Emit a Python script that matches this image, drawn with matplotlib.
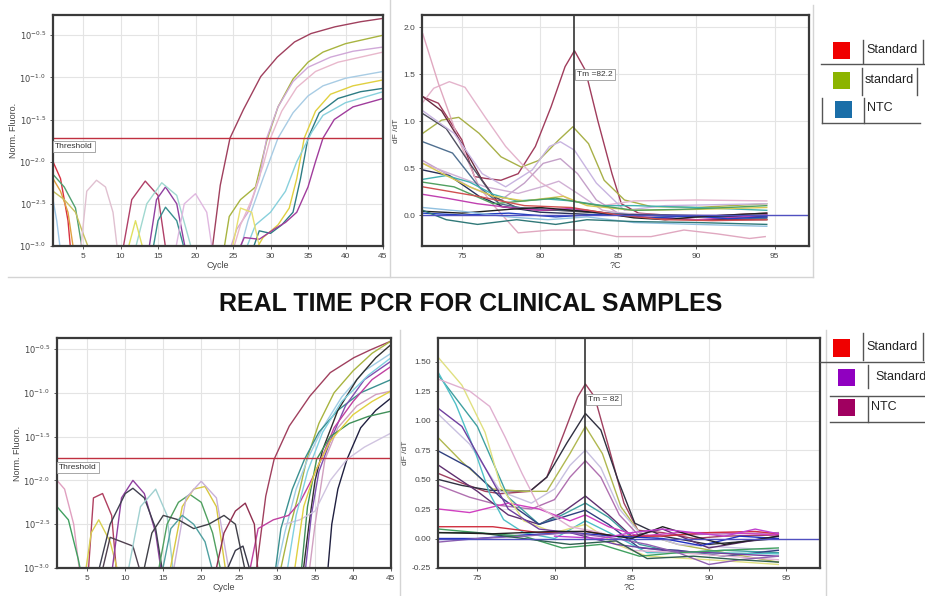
import numpy as np
import matplotlib
matplotlib.use('Agg')
import matplotlib.pyplot as plt
from matplotlib.lines import Line2D
from matplotlib.patches import Rectangle

plt.rcParams['font.family'] = ['Liberation Sans', 'DejaVu Sans']

W, H = 925, 596

# ---------- top-left: amplification (cycle, log10 norm. fluoro.) ----------
tl_x = [
    [22, 23.3, 24.6, 26.4, 28.7, 30.9, 33.2, 35.4, 38.6, 42, 45],
    [23.5, 24.5, 26, 28, 29.5, 31, 33, 35, 37, 40, 45],
    [24, 25.5, 27, 28.5, 29.5, 31, 33, 35, 38, 41, 45],
    [24.5, 26, 27.5, 29, 30, 31.5, 33.5, 36, 39, 45],
    [25.5, 27, 29, 31, 33, 35, 37, 40, 45],
    [27, 29, 31, 32.5, 33.5, 34.5, 36, 38, 41, 45],
    [27, 28.5, 30, 31.5, 33, 34, 35, 36.5, 39, 42, 45],
    [26, 28, 30, 32, 33.5, 35.5, 37, 40, 45],
    [25, 26.5, 28.5, 30.5, 32, 33.5, 35, 36, 37, 38.5, 41, 45],
    [1, 2, 3, 3.5],
    [1, 2, 3, 4],
    [1, 2.5, 4, 5.2],
    [1, 1.5, 2.2],
    [1, 2.5, 4, 5, 6.5],
    [4.5, 5.5, 6.8, 8, 9, 9.8],
    [10, 11.5, 13.3, 15, 16.3],
    [13.5, 14.8, 16, 17.5, 19],
    [11.5, 13.5, 15.5, 17.5, 20],
    [14, 15, 16, 17.5, 19],
    [10.5, 12, 13.5],
    [17, 18.5, 20, 21.5, 22.5],
    [24.5, 26, 27.5, 29],
]
tl_y = [
    [-3.2, -2.28, -1.72, -1.38, -0.99, -0.76, -0.58, -0.48, -0.40, -0.34, -0.30],
    [-3.2, -2.65, -2.45, -2.3, -1.75, -1.35, -1.02, -0.82, -0.7, -0.6, -0.5],
    [-3.2, -2.8, -2.6, -2.2, -1.72, -1.35, -1.05, -0.88, -0.76, -0.69, -0.64],
    [-3.2, -2.75, -2.45, -2.05, -1.72, -1.4, -1.12, -0.93, -0.82, -0.70],
    [-3.2, -2.7, -2.2, -1.72, -1.42, -1.22, -1.1, -1.01, -0.93],
    [-3.2, -2.9, -2.75, -2.55, -2.2, -1.72, -1.4, -1.2, -1.1, -1.03],
    [-3.2, -2.82, -2.85, -2.75, -2.6, -2.2, -1.72, -1.42, -1.25, -1.17, -1.13],
    [-3.2, -2.75, -2.6, -2.35, -2.0, -1.65, -1.45, -1.3, -1.17],
    [-3.2, -2.9, -2.92, -2.8, -2.72, -2.6, -2.3, -2.0, -1.72, -1.5, -1.35, -1.25],
    [-2.0, -2.2, -2.7, -3.2],
    [-2.2, -2.35, -2.6, -3.2],
    [-2.15, -2.3, -2.55, -3.2],
    [-2.45, -2.7, -3.2],
    [-2.35, -2.45, -2.6, -2.85, -3.2],
    [-3.2, -2.35, -2.22, -2.3, -2.6, -3.2],
    [-3.2, -2.45, -2.23, -2.4, -3.2],
    [-3.2, -2.45, -2.3, -2.5, -3.2],
    [-3.2, -2.5, -2.25, -2.4, -3.2],
    [-3.2, -2.7, -2.54, -2.7, -3.2],
    [-3.2, -2.7, -3.2],
    [-3.2, -2.5, -2.38, -2.6, -3.2],
    [-3.2, -2.55, -2.6, -3.2],
]
tl_colors = ['#a0405e', '#a8b440', '#d0a8d8', '#e8b8cc', '#a8cce4', '#e0d040',
             '#2e7c84', '#88d0dc', '#a03c9c', '#d83040', '#e0a040', '#50a070',
             '#a0c8e8', '#c8c060', '#e0c0d0', '#b04068', '#9040a0', '#a0d8d0',
             '#3a9090', '#e0e060', '#e0b8e0', '#e8e070']
tl_threshold = -1.72

# ---------- top-right: melt curves (temperature, dF/dT) ----------
tr_x = [
    [72.5, 73.5, 75, 75.8, 76.5, 77.5, 78.6, 79.7, 80.7, 81.6, 82.2, 82.9, 83.7, 84.6, 85.2, 86.3, 88, 90, 92, 94.5],
    [72.5, 73.7, 74.8, 76.1, 77.5, 78.8, 79.9, 81.2, 82.1, 83.1, 84.1, 85.4, 87.1, 90, 94.5],
    [72.5, 73.2, 74.2, 75.2, 76.5, 77.8, 78.8, 80, 82, 84, 86, 90, 94.5],
    [72.5, 73.5, 74.8, 76.1, 77.1, 78.6, 80.7, 82.8, 84.9, 87.1, 89.2, 91.3, 93.4, 94.4],
    [72.5, 75.5, 77.5, 79.0, 80.2, 81.3, 82.4, 83.6, 85, 88, 94.5],
    [72.5, 76.5, 78.6, 80.1, 81.2, 82.4, 84, 86, 94.5],
    [72.5, 73.7, 75, 76.3, 77.5, 80, 83, 86, 90, 94.5],
    [72.5, 74, 75.5, 77, 78.5, 82, 86, 90, 94.5],
    [72.5, 74.4, 76.1, 77.4, 79, 82, 86, 94.5],
    [72.5, 74.2, 76.1, 77.6, 80, 84, 88, 94.5],
    [72.5, 74.5, 76.3, 77.8, 79.5, 80.6, 81.3, 82.2, 83.6, 85.4, 88, 94.5],
    [72.5, 74, 75.5, 77, 78.5, 80.5, 82, 84, 86, 90, 94.5],
    [72.5, 74, 75.5, 77, 79, 81.5, 83, 86, 90, 94.5],
    [72.5, 74, 76, 78, 80, 82, 84, 86, 88, 90, 92, 94.5],
    [72.5, 74.5, 77, 79, 81, 83, 86, 89, 92, 94.5],
    [72.5, 75, 78, 81, 84, 87, 90, 92, 94.5],
    [72.5, 75, 78, 80, 82, 84, 86, 88, 90, 92, 94.5],
    [72.5, 75, 78, 80.5, 83, 86, 90, 94.5],
    [72.5, 74, 76, 78.5, 81, 83, 86, 90, 94.5],
    [72.5, 76, 79, 82, 85, 88, 91, 94.5],
]
tr_y = [
    [1.26, 1.19, 0.80, 0.41, 0.39, 0.37, 0.44, 0.73, 1.15, 1.58, 1.75, 1.54, 1.0, 0.44, 0.12, 0.02, 0.0, -0.02, 0.0, 0.02],
    [0.87, 1.01, 1.04, 0.87, 0.62, 0.51, 0.58, 0.80, 0.94, 0.76, 0.37, 0.16, 0.09, 0.08, 0.12],
    [1.2, 1.35, 1.42, 1.36, 1.04, 0.73, 0.55, 0.35, 0.15, 0.1, 0.15, 0.16, 0.15],
    [1.93, 1.40, 0.80, 0.30, 0.09, -0.19, -0.16, -0.16, -0.23, -0.23, -0.16, -0.2, -0.25, -0.23],
    [0.58, 0.30, 0.16, 0.34, 0.55, 0.60, 0.44, 0.16, 0.02, 0.0, -0.03],
    [0.55, 0.30, 0.23, 0.30, 0.36, 0.23, 0.05, 0.0, 0.0],
    [1.26, 1.11, 0.76, 0.37, 0.09, 0.05, 0.05, -0.02, -0.05, -0.05],
    [1.08, 0.92, 0.55, 0.2, 0.08, 0.04, 0.0, -0.02, 0.0],
    [0.78, 0.66, 0.30, 0.12, 0.07, 0.05, 0.0, -0.04],
    [0.48, 0.42, 0.20, 0.09, 0.03, 0.0, 0.0, -0.02],
    [1.11, 0.87, 0.44, 0.30, 0.48, 0.73, 0.78, 0.69, 0.34, 0.05, 0.1, 0.12],
    [0.38, 0.42, 0.35, 0.22, 0.15, 0.17, 0.15, 0.1, 0.1, 0.08, 0.05],
    [0.55, 0.42, 0.3, 0.2, 0.15, 0.2, 0.1, 0.05, 0.06, 0.08],
    [0.22, 0.18, 0.12, 0.08, 0.05, 0.07, 0.02, -0.02, -0.03, -0.05, -0.03, 0.0],
    [0.35, 0.3, 0.12, 0.15, 0.18, 0.12, 0.05, 0.06, 0.08, 0.1],
    [0.02, 0.0, 0.02, -0.02, 0.01, -0.03, -0.01, -0.04, -0.02],
    [0.04, 0.02, 0.06, 0.08, 0.05, 0.02, -0.03, -0.05, -0.02, 0.0, 0.02],
    [0.08, 0.04, -0.02, -0.05, -0.02, -0.08, -0.1, -0.12],
    [0.05, -0.05, -0.1, -0.05, -0.1, -0.05, -0.07, -0.08, -0.1],
    [0.3, 0.2, 0.1, 0.08, 0.0, -0.05, -0.06, -0.05],
]
tr_colors = ['#a03c5c', '#a8b048', '#e4b4cc', '#e0a8c0', '#c4a0c8', '#d0b0d4',
             '#6a2a40', '#505060', '#507090', '#283058', '#c8b4e0', '#40b0b0',
             '#d8c850', '#c040b0', '#50a060', '#2040c0', '#202020', '#90c0e0',
             '#307878', '#d05050']
tr_tm = 82.2

# ---------- bottom-left: amplification ----------
bl_x = [
    [27, 28.5, 29.6, 31.6, 34.3, 37, 40.1, 42.3, 45],
    [30, 31.5, 33, 33.9, 35.5, 37.5, 40, 42.5, 45],
    [29.5, 31, 32.5, 34, 36, 38.5, 41.5, 45],
    [29.5, 30.5, 32, 33.6, 35.5, 38, 41, 45],
    [33.2, 34.2, 35, 36, 38, 40.5, 43, 45],
    [33.5, 34.5, 35.5, 37, 39, 41.5, 45],
    [26, 27.5, 29.5, 31.5, 33, 34.5, 35.8, 37.5, 40, 42.5, 45],
    [34, 35, 36.3, 38, 40.5, 43, 45],
    [36.5, 37.2, 38, 39.2, 41, 43, 45],
    [33, 34, 35.2, 37, 39.5, 42, 45],
    [31, 33, 35, 37, 39.2, 41.5, 45],
    [32, 33.5, 35, 37, 40, 42.5, 45],
    [31, 32.5, 34, 36, 38.5, 42, 45],
    [1, 2, 3.2, 4.2],
    [1, 2.5, 3.8, 4.5],
    [5, 5.8, 7, 8.2, 9],
    [4.5, 5.5, 6.5, 8, 9.5],
    [8, 9.5, 11, 12.5, 14, 15],
    [6, 8, 10, 11, 12.5, 14, 15.2],
    [6.5, 8, 9.5, 11, 12.5],
    [10, 12, 14, 15.5, 16.5],
    [14, 15.5, 17, 18.5, 20, 21.5, 23],
    [15.5, 17.5, 19, 20.5, 22, 23.5],
    [16, 18, 20, 22, 24],
    [12, 13.5, 15, 17, 19, 21, 23, 24.5, 26.2],
    [21.5, 23, 24.5, 25.8, 27, 27.6],
    [14.5, 16, 17.5, 19, 20.5, 22],
    [22.5, 24.5, 25.5, 27],
]
bl_y = [
    [-3.2, -2.18, -1.76, -1.38, -1.04, -0.77, -0.60, -0.51, -0.41],
    [-3.2, -2.6, -2.1, -1.76, -1.35, -1.0, -0.75, -0.55, -0.41],
    [-3.2, -2.6, -2.1, -1.76, -1.4, -1.05, -0.75, -0.55],
    [-3.2, -2.55, -2.1, -1.76, -1.45, -1.2, -1.0, -0.85],
    [-3.2, -2.5, -2.0, -1.65, -1.2, -0.85, -0.6, -0.45],
    [-3.2, -2.4, -1.9, -1.55, -1.15, -0.85, -0.64],
    [-3.2, -2.55, -2.45, -2.4, -2.25, -2.0, -1.76, -1.4, -1.1, -0.85, -0.70],
    [-3.2, -2.5, -1.76, -1.4, -1.15, -1.02, -0.98],
    [-3.2, -2.5, -2.1, -1.76, -1.4, -1.2, -1.06],
    [-3.2, -2.3, -1.76, -1.5, -1.35, -1.27, -1.21],
    [-2.5, -2.45, -2.35, -2.0, -1.76, -1.62, -1.46],
    [-3.2, -2.3, -1.9, -1.55, -1.25, -1.1, -0.98],
    [-3.2, -2.4, -1.9, -1.45, -1.1, -0.8, -0.6],
    [-2.0, -2.1, -2.5, -3.2],
    [-2.3, -2.45, -2.9, -3.2],
    [-3.2, -2.2, -2.15, -2.4, -3.2],
    [-3.2, -2.6, -2.45, -2.7, -3.2],
    [-3.2, -2.2, -2.0, -2.15, -2.6, -3.2],
    [-3.2, -2.5, -2.15, -2.09, -2.2, -2.55, -3.2],
    [-3.2, -2.65, -2.7, -2.75, -3.2],
    [-3.2, -2.3, -2.1, -2.4, -3.2],
    [-3.2, -2.5, -2.25, -2.16, -2.25, -2.6, -3.2],
    [-3.2, -2.3, -2.1, -2.07, -2.3, -3.2],
    [-3.2, -2.2, -2.01, -2.2, -3.2],
    [-3.2, -2.6, -2.4, -2.45, -2.55, -2.5, -2.4, -2.5, -3.2],
    [-3.2, -2.6, -2.35, -2.26, -2.5, -3.2],
    [-3.2, -2.55, -2.4, -2.5, -2.7, -3.2],
    [-3.2, -2.8, -2.75, -3.2],
]
bl_colors = ['#a0405e', '#a8b440', '#a0cce4', '#3a9090', '#303030', '#8050b0',
             '#c040a0', '#d0a0c0', '#202040', '#40905a', '#d0c4e0', '#e0d040',
             '#80d0e0', '#e0a0c0', '#40a060', '#b04060', '#d8d050', '#9040a0',
             '#404050', '#504050', '#a0d0d0', '#50a060', '#d8c840', '#c8b0d8',
             '#404048', '#903050', '#50a0a0', '#383848']
bl_threshold = -1.75

# ---------- bottom-right: melt curves ----------
br_x = [
    [72.5, 74, 75.5, 76.5, 78.4, 79.5, 80.6, 81.5, 82.0, 82.6, 83.5, 84.5, 85.4, 87, 89, 91, 94.5],
    [72.5, 74, 75.8, 78.4, 79.5, 80.8, 82.0, 83.0, 84.1, 85.2, 87, 90, 94.5],
    [72.5, 74, 76, 78, 79.5, 81, 82.0, 83.1, 84.3, 85.5, 88, 91, 94.5],
    [72.5, 74.5, 76.5, 78.5, 80, 81, 82.0, 83, 84.2, 85.5, 88, 94.5],
    [72.5, 74.5, 76.5, 78.5, 80, 81, 82.0, 83, 84.2, 85.5, 88, 94.5],
    [72.5, 75, 77, 79, 80.5, 82.0, 83.5, 85, 87, 90, 94.5],
    [72.5, 75, 77, 79, 80.5, 82.0, 83.5, 85.5, 88, 91, 94.5],
    [72.5, 74.5, 76.5, 79, 80.5, 82.0, 83.5, 85.5, 88, 91, 94.5],
    [72.5, 74.5, 77, 79, 81, 82.0, 83.5, 85.5, 88, 91, 94.5],
    [72.5, 73.6, 74.9, 75.8, 76.7, 78, 80, 82, 84, 86, 90, 94.5],
    [72.5, 74, 75.5, 76.5, 78, 80, 82, 84, 86, 90, 94.5],
    [72.5, 74.5, 75.8, 76.8, 77.9, 79, 81, 83, 85, 88, 94.5],
    [72.5, 74, 75.5, 77, 79, 81, 84, 87, 90, 94.5],
    [72.5, 76, 79, 82, 84, 87, 90, 93, 94.5],
    [72.5, 75, 78, 81, 84, 87, 89.5, 92, 94.5],
    [72.5, 75, 78, 80.5, 83, 85.5, 88, 91, 94.5],
    [72.5, 75, 78, 81, 84, 86, 88, 90, 92, 94.5],
    [72.5, 75, 78, 81, 84, 86, 89, 92, 94.5],
    [72.5, 76, 80, 82, 85, 87, 89, 91, 94.5],
    [80, 83, 85, 87, 89, 91, 93, 94.5],
]
br_y = [
    [0.55, 0.47, 0.40, 0.38, 0.40, 0.52, 0.89, 1.20, 1.31, 1.20, 0.78, 0.30, 0.07, 0.05, 0.0, 0.02, 0.03],
    [0.50, 0.45, 0.41, 0.40, 0.52, 0.81, 1.06, 0.92, 0.50, 0.13, 0.02, -0.05, 0.0],
    [0.85, 0.65, 0.42, 0.40, 0.40, 0.72, 0.95, 0.72, 0.27, 0.05, -0.05, -0.12, -0.2],
    [1.05, 0.8, 0.4, 0.3, 0.42, 0.62, 0.75, 0.6, 0.25, 0.05, -0.05, -0.1],
    [0.45, 0.35, 0.28, 0.25, 0.33, 0.52, 0.66, 0.52, 0.2, 0.02, 0.03, 0.05],
    [0.62, 0.4, 0.2, 0.12, 0.22, 0.36, 0.2, 0.02, 0.08, -0.08, 0.02],
    [1.38, 0.95, 0.35, 0.12, 0.2, 0.30, 0.18, -0.05, -0.12, -0.1, -0.12],
    [0.74, 0.6, 0.35, 0.12, 0.18, 0.24, 0.12, -0.08, -0.1, -0.15, -0.1],
    [0.25, 0.22, 0.3, 0.25, 0.15, 0.20, 0.1, 0.02, 0.05, 0.05, 0.03],
    [1.40, 1.14, 0.72, 0.38, 0.16, 0.05, 0.0, 0.15, 0.02, -0.12, -0.12, -0.13],
    [1.53, 1.3, 0.9, 0.45, 0.15, 0.05, 0.12, -0.05, -0.15, -0.18, -0.22],
    [1.35, 1.25, 1.12, 0.86, 0.55, 0.27, 0.10, 0.05, -0.1, -0.12, -0.18],
    [1.10, 0.95, 0.6, 0.25, 0.08, 0.05, -0.05, -0.1, -0.12, -0.15],
    [0.1, 0.1, 0.05, 0.06, 0.02, 0.02, 0.05, 0.06, 0.04],
    [0.0, 0.0, 0.03, 0.05, 0.02, 0.0, -0.06, 0.02, 0.0],
    [0.08, 0.05, 0.02, -0.08, -0.05, -0.15, -0.12, -0.1, -0.08],
    [-0.03, 0.0, 0.02, 0.05, 0.0, -0.05, -0.12, -0.22, -0.18, -0.15],
    [0.05, 0.05, 0.0, -0.05, -0.02, -0.17, -0.15, -0.18, -0.2],
    [0.05, 0.04, 0.06, 0.06, 0.0, 0.1, 0.02, -0.05, 0.02],
    [0.02, 0.0, 0.05, 0.08, 0.05, 0.02, 0.08, 0.04],
]
br_colors = ['#a04060', '#303040', '#b0b850', '#c8c0e0', '#b070b0', '#603070',
             '#40a0a0', '#304080', '#d040c0', '#50c0c8', '#e0e080', '#e0b0d0',
             '#7040a0', '#d03040', '#2030c0', '#40a060', '#9060b0', '#306050',
             '#202020', '#c040d0']
br_tm = 82.0

amp_ticks = [-0.5, -1.0, -1.5, -2.0, -2.5, -3.0]
cycle_ticks = [5, 10, 15, 20, 25, 30, 35, 40, 45]
temp_ticks = [75, 80, 85, 90, 95]
tr_yticks = [0.0, 0.5, 1.0, 1.5, 2.0]
br_yticks = [-0.25, 0.0, 0.25, 0.5, 0.75, 1.0, 1.25, 1.5]

legend_top = ['Standard', 'standard', 'NTC']
legend_top_colors = ['#f00000', '#8cb400', '#1a6ea8']
legend_bot = ['Standard', 'Standard', 'NTC']
legend_bot_colors = ['#f00000', '#9000c0', '#a00060']


def rect(l, t, r, b):
    # pixel box -> figure fraction [left, bottom, width, height]
    return [l / W, 1 - b / H, (r - l) / W, (b - t) / H]


def fx(x):
    return x / W


def fy(y):
    return 1 - y / H


def style(ax):
    for s in ax.spines.values():
        s.set_color('#3a3a3a')
        s.set_linewidth(1.6)
    ax.grid(True, color='#e4e4e4', linewidth=0.8)
    ax.set_axisbelow(True)
    ax.tick_params(labelsize=6, colors='#444444', length=2, width=0.6, pad=3)


def amp_panel(ax, xs, ys, colors, thr, top):
    for x, y, c in zip(xs, ys, colors):
        ax.plot(x, 10 ** np.array(y), color=c, lw=1.0)
    ax.set_yscale('log')
    ax.set_xlim(1, 45)
    ax.set_ylim(10 ** -3.0, 10 ** top)
    ax.set_yticks([10 ** v for v in amp_ticks])
    ax.set_yticklabels([r'$10^{%.1f}$' % v for v in amp_ticks])
    ax.minorticks_off()
    ax.set_xticks(cycle_ticks)
    ax.axhline(10 ** thr, color='#c03040', lw=1.0)
    ax.text(1.3, 10 ** (thr - 0.06), 'Threshold', fontsize=6, va='top', ha='left',
            color='#333333',
            bbox=dict(boxstyle='square,pad=0.25', fc='white', ec='#999999', lw=0.6))
    ax.set_xlabel('Cycle', fontsize=6.5, color='#444444', labelpad=1)
    ax.set_ylabel('Norm. Fluoro.', fontsize=6.5, color='#444444', labelpad=1)
    style(ax)


def melt_panel(ax, xs, ys, colors, tm, label, ylim, yticks, fmt, label_y):
    for x, y, c in zip(xs, ys, colors):
        ax.plot(x, y, color=c, lw=1.0)
    ax.axhline(0, color='#5050c0', lw=1.0)
    ax.axvline(tm, color='#333333', lw=1.2)
    ax.text(tm + 0.15, label_y, label, fontsize=6, va='center', ha='left', color='#333333',
            bbox=dict(boxstyle='square,pad=0.25', fc='white', ec='#999999', lw=0.6))
    ax.set_xlim(72.45, 97.2)
    ax.set_ylim(*ylim)
    ax.set_xticks(temp_ticks)
    ax.set_yticks(yticks)
    ax.set_yticklabels([fmt % v for v in yticks])
    ax.set_xlabel('?C', fontsize=6.5, color='#444444', labelpad=1)
    ax.set_ylabel('dF /dT', fontsize=6, color='#444444', labelpad=2)
    style(ax)


fig = plt.figure(figsize=(W / 100, H / 100), dpi=100)
fig.patch.set_facecolor('white')

ax_tl = fig.add_axes(rect(53, 15, 383, 246))
amp_panel(ax_tl, tl_x, tl_y, tl_colors, tl_threshold, -0.26)

ax_tr = fig.add_axes(rect(422, 15, 809, 246))
melt_panel(ax_tr, tr_x, tr_y, tr_colors, tr_tm, 'Tm =82.2', (-0.33, 2.13),
           tr_yticks, '%.1f', 1.5)

ax_bl = fig.add_axes(rect(57, 338, 391, 568))
amp_panel(ax_bl, bl_x, bl_y, bl_colors, bl_threshold, -0.375)

ax_br = fig.add_axes(rect(438, 338, 820, 568))
melt_panel(ax_br, br_x, br_y, br_colors, br_tm, 'Tm = 82', (-0.25, 1.70),
           br_yticks, '%.2f', 1.18)

fig.text(fx(471), fy(304), 'REAL TIME PCR FOR CLINICAL SAMPLES', ha='center', va='center',
         fontsize=18, fontweight='bold', color='#111111')

# window borders of the screenshot
border = dict(color='#d4d4d4', lw=1.0, transform=fig.transFigure)
for (x0, y0, x1, y1) in [(8, 277, 813, 277), (390, 0, 390, 277), (813, 5, 813, 277),
                         (400, 330, 400, 596), (826, 330, 826, 596)]:
    fig.add_artist(Line2D([fx(x0), fx(x1)], [fy(y0), fy(y1)], **border))

# legend tables
dark = dict(color='#555555', lw=1.0, transform=fig.transFigure)


def legend_row(sq, color, text_xy, label):
    l, t, r, b = sq
    fig.add_artist(Rectangle((fx(l), fy(b)), fx(r) - fx(l), fy(t) - fy(b),
                             transform=fig.transFigure, fc=color, ec='none'))
    fig.text(fx(text_xy[0]), fy(text_xy[1]), label, fontsize=9, va='center', ha='left',
             color='#222222')


top_squares = [(833, 42, 850, 59), (833, 72, 850, 89), (835, 101, 852, 118)]
top_text = [(866, 50), (865, 80), (867, 108)]
for sq, c, txy, lab in zip(top_squares, legend_top_colors, top_text, legend_top):
    legend_row(sq, c, txy, lab)
for (x0, y0, x1, y1) in [(863, 40, 863, 63), (923, 40, 923, 63), (821, 64, 925, 64),
                         (862, 68, 862, 95), (917, 68, 917, 95), (822, 98, 822, 123),
                         (864, 98, 864, 123), (822, 123, 920, 123)]:
    fig.add_artist(Line2D([fx(x0), fx(x1)], [fy(y0), fy(y1)], **dark))

bot_squares = [(833, 339, 850, 357), (838, 369, 855, 386), (838, 399, 855, 416)]
bot_text = [(866, 347), (875, 377), (871, 407)]
for sq, c, txy, lab in zip(bot_squares, legend_bot_colors, bot_text, legend_bot):
    legend_row(sq, c, txy, lab)
for (x0, y0, x1, y1) in [(863, 333, 863, 360), (923, 333, 923, 360), (820, 362, 925, 362),
                         (868, 365, 868, 388), (830, 396, 925, 396), (868, 397, 868, 422),
                         (830, 422, 925, 422)]:
    fig.add_artist(Line2D([fx(x0), fx(x1)], [fy(y0), fy(y1)], **dark))

fig.savefig('out.png', dpi=100, facecolor='white')
